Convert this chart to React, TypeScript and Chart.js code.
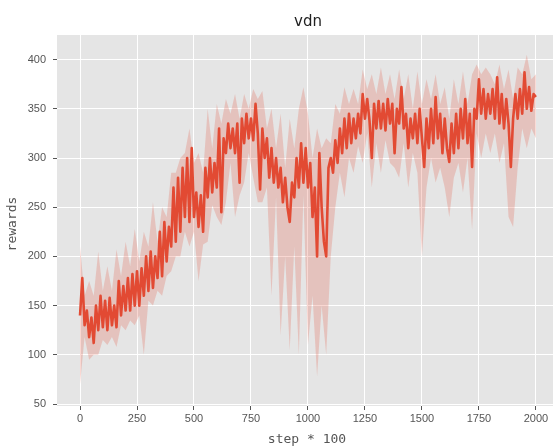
import React, { useEffect, useRef } from 'react';
import { Chart, registerables } from 'chart.js';

Chart.register(...registerables);

const TITLE = 'vdn';
const X_LABEL = 'step * 100';
const Y_LABEL = 'rewards';

const X_TICKS = [0, 250, 500, 750, 1000, 1250, 1500, 1750, 2000];
const Y_TICKS = [50, 100, 150, 200, 250, 300, 350, 400];

// mean reward, sampled every 10 steps (0..2000)
const MAIN_STEP = 10;
const rewards = [
  140, 178, 130, 145, 118, 138, 112, 150, 125, 160,
  128, 155, 125, 158, 130, 150, 128, 175, 140, 170,
  145, 178, 145, 182, 150, 185, 150, 188, 160, 200,
  165, 205, 168, 200, 178, 225, 180, 235, 195, 230,
  210, 270, 215, 280, 225, 290, 240, 300, 235, 310,
  240, 265, 230, 262, 225, 290, 260, 300, 265, 295,
  270, 330, 245, 320, 305, 335, 310, 330, 305, 335,
  275, 340, 315, 345, 320, 340, 318, 355, 325, 268,
  330, 300, 320, 280, 310, 275, 300, 270, 290, 255,
  280, 250, 235, 275, 260, 300, 270, 315, 275, 310,
  270, 295, 240, 270, 200, 305, 250, 215, 200, 290,
  300, 285, 318, 295, 330, 305, 340, 310, 345, 315,
  340, 320, 345, 325, 365, 340, 360, 338, 300, 355,
  330, 358, 330, 355, 328, 360, 335, 355, 305, 350,
  335, 372, 330, 345, 310, 340, 320, 345, 315, 350,
  320, 291, 340, 310, 350, 315, 362, 320, 345, 305,
  340, 310, 296, 335, 305, 345, 310, 350, 320, 360,
  315, 345, 291, 350, 340, 380, 345, 370, 340, 365,
  345, 370, 340, 382, 335, 365, 330, 360, 335, 291,
  340, 365, 340, 370, 345, 387, 350, 372, 348, 365,
  362,
];

// spread band (upper / lower), sampled every 20 steps (0..2000)
const BAND_STEP = 20;
const bandUpper = [
  210, 160, 175, 160, 205, 165, 190, 165, 207, 180,
  215, 190, 228, 195, 225, 210, 255, 215, 250, 240,
  285, 285, 300, 305, 330, 295, 305, 285, 350, 310,
  355, 335, 360, 345, 365, 340, 365, 350, 370, 360,
  368, 330, 350, 310, 345, 290, 340, 310, 350, 372,
  345, 300, 330, 310, 320, 315, 355, 345, 372, 355,
  370, 355, 390, 370, 385, 365, 392, 365, 385, 360,
  390, 360, 385, 350, 388, 355, 380, 360, 385, 355,
  372, 340, 380, 355, 388, 355, 385, 395, 385, 392,
  385, 375, 395, 370, 390, 360, 392, 385, 405, 380,
  385,
];
const bandLower = [
  70, 118, 95, 100, 100, 115, 110, 118, 108, 130,
  125, 135, 130, 140, 100, 155, 150, 165, 160, 180,
  185, 200, 200, 225, 210, 225, 175, 212, 215, 252,
  240, 232, 255, 295, 240, 262, 275, 305, 280, 255,
  255, 270, 160, 260, 120, 200, 105, 210, 100, 262,
  110, 160, 78, 150, 100, 200, 250, 285, 260, 300,
  285, 312, 295, 325, 270, 315, 285, 318, 295, 290,
  280, 315, 270, 305, 285, 200, 270, 300, 275, 290,
  270, 240, 280, 295, 265, 300, 227, 325, 300, 325,
  305, 325, 295, 315, 240, 230, 290, 330, 310, 330,
  320,
];

const X_MIN = -101;
const X_MAX = 2075;
const Y_MIN = 48;
const Y_MAX = 425;

const LINE_COLOR = '#E24A33';
const BAND_COLOR = 'rgba(226,74,51,0.22)';

const toPoints = (vals: number[], step: number) => vals.map((v, i) => ({ x: i * step, y: v }));

const decorPlugin = {
  id: 'decor',
  beforeDraw(chart: any) {
    const { ctx, chartArea: a } = chart;
    ctx.save();
    ctx.fillStyle = '#E5E5E5';
    ctx.fillRect(a.left, a.top, a.right - a.left, a.bottom - a.top);
    ctx.restore();
  },
  afterDraw(chart: any) {
    const { ctx } = chart;
    ctx.save();
    ctx.fillStyle = '#222222';
    ctx.font = '15px "DejaVu Sans"';
    ctx.textAlign = 'center';
    ctx.textBaseline = 'alphabetic';
    ctx.fillText(TITLE, 308, 26);
    ctx.fillStyle = '#555555';
    ctx.font = '13px "DejaVu Sans Mono"';
    ctx.fillText(X_LABEL, 307, 443);
    ctx.translate(13, 224);
    ctx.rotate(-Math.PI / 2);
    ctx.textBaseline = 'middle';
    ctx.fillText(Y_LABEL, 0, 0);
    ctx.restore();
  },
};

export default function App() {
  const ref = useRef<HTMLCanvasElement | null>(null);
  useEffect(() => {
    document.body.style.margin = '0';
    const canvas = ref.current;
    if (!canvas) return;
    const tickFont = { family: '"Liberation Sans", Arial, sans-serif', size: 11 };
    const chart = new Chart(canvas, {
      type: 'line',
      data: {
        datasets: [
          {
            label: 'mean',
            data: toPoints(rewards, MAIN_STEP),
            borderColor: LINE_COLOR,
            borderWidth: 2.6,
            borderJoinStyle: 'round',
            pointRadius: 0,
            fill: false,
            tension: 0,
          },
          {
            label: 'upper',
            data: toPoints(bandUpper, BAND_STEP),
            borderColor: 'rgba(0,0,0,0)',
            borderWidth: 0,
            pointRadius: 0,
            backgroundColor: BAND_COLOR,
            fill: '+1',
            tension: 0,
          },
          {
            label: 'lower',
            data: toPoints(bandLower, BAND_STEP),
            borderColor: 'rgba(0,0,0,0)',
            borderWidth: 0,
            pointRadius: 0,
            fill: false,
            tension: 0,
          },
        ],
      },
      options: {
        animation: false,
        responsive: false,
        devicePixelRatio: 1,
        layout: { padding: { top: 35, left: 0, right: 0, bottom: 0 } },
        plugins: {
          legend: { display: false },
          tooltip: { enabled: false },
          title: { display: false },
        },
        scales: {
          x: {
            type: 'linear',
            min: X_MIN,
            max: X_MAX,
            afterBuildTicks: (s: any) => {
              s.ticks = X_TICKS.map((v) => ({ value: v }));
            },
            afterFit: (s: any) => {
              s.height = 41;
            },
            border: { display: false },
            grid: { color: '#FFFFFF', lineWidth: 1, drawTicks: true, tickLength: 4, tickColor: '#555555' },
            ticks: {
              color: '#555555',
              font: tickFont,
              padding: 2,
              maxRotation: 0,
              autoSkip: false,
              callback: (v: any) => String(v),
            },
          },
          y: {
            type: 'linear',
            min: Y_MIN,
            max: Y_MAX,
            afterBuildTicks: (s: any) => {
              s.ticks = Y_TICKS.map((v) => ({ value: v }));
            },
            afterFit: (s: any) => {
              s.width = 57;
            },
            border: { display: false },
            grid: { color: '#FFFFFF', lineWidth: 1, drawTicks: true, tickLength: 4, tickColor: '#555555' },
            ticks: {
              color: '#555555',
              font: tickFont,
              padding: 7,
              autoSkip: false,
              callback: (v: any) => String(v),
            },
          },
        },
      },
      plugins: [decorPlugin],
    });
    return () => chart.destroy();
  }, []);
  return <canvas ref={ref} width={553} height={447} style={{ display: 'block' }} />;
}
